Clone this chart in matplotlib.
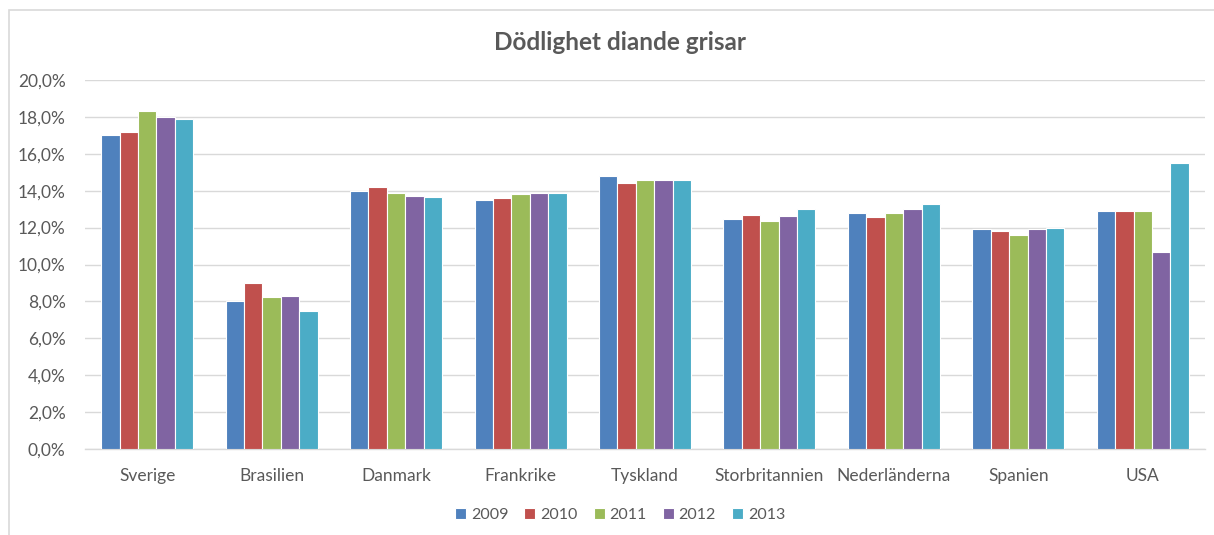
import numpy as np
import matplotlib.pyplot as plt
from matplotlib.patches import Rectangle
from matplotlib.ticker import FuncFormatter

countries = ['Sverige', 'Brasilien', 'Danmark', 'Frankrike', 'Tyskland',
             'Storbritannien', 'Nederländerna', 'Spanien', 'USA']
years = ['2009', '2010', '2011', '2012', '2013']
v2009 = [17.0, 8.0, 14.0, 13.5, 14.8, 12.45, 12.8, 11.9, 12.9]
v2010 = [17.2, 9.0, 14.2, 13.6, 14.4, 12.7, 12.6, 11.8, 12.9]
v2011 = [18.3, 8.25, 13.9, 13.8, 14.6, 12.35, 12.8, 11.6, 12.9]
v2012 = [18.0, 8.3, 13.7, 13.9, 14.6, 12.65, 13.0, 11.9, 10.7]
v2013 = [17.9, 7.5, 13.65, 13.9, 14.6, 13.0, 13.3, 12.0, 15.5]
series = [v2009, v2010, v2011, v2012, v2013]
colors = ['#4F81BD', '#C0504D', '#9BBB59', '#8064A2', '#4BACC6']

plt.rcParams['font.family'] = ['Lato', 'DejaVu Sans']

fig = plt.figure(figsize=(12.14, 5.35), dpi=100)
# chart frame (cut at right/bottom like the screenshot)
fig.patches.append(Rectangle((9 / 1214, -0.1), 1.2, 1 - 10 / 535 + 0.1,
                             transform=fig.transFigure, fill=False,
                             edgecolor='#d9d9d9', linewidth=1.2))

ax = fig.add_axes([85 / 1214, 86 / 535, 1120 / 1214, 369 / 535])
x = np.arange(len(countries))
w = 0.148
for i, (vals, c) in enumerate(zip(series, colors)):
    ax.bar(x + (i - 2) * w, vals, w, color=c, edgecolor='white',
           linewidth=0.8, label=years[i], zorder=3)

ax.set_xlim(-0.5, len(countries) - 0.5)
ax.set_ylim(0, 20)
ax.set_yticks(np.arange(0, 21, 2))
ax.yaxis.set_major_formatter(FuncFormatter(lambda v, p: ('%.1f%%' % v).replace('.', ',')))
ax.set_xticks(x)
ax.set_xticklabels(countries)
ax.grid(axis='y', color='#d9d9d9', linewidth=1, zorder=0)
for s in ['top', 'right', 'left']:
    ax.spines[s].set_visible(False)
ax.spines['bottom'].set_color('#d9d9d9')
ax.spines['bottom'].set_linewidth(1)
ax.tick_params(axis='both', length=0, labelsize=12.5, colors='#595959')
ax.tick_params(axis='x', pad=14)
ax.tick_params(axis='y', pad=14)

fig.text(620 / 1214, 1 - 42 / 535, 'Dödlighet diande grisar', ha='center',
         va='center', fontsize=17.5, fontweight='bold', color='#595959')

fig.legend(loc='center', bbox_to_anchor=(620 / 1214, 1 - 515 / 535), ncol=5,
           frameon=False, fontsize=11.5, handlelength=0.7, handleheight=0.7,
           handletextpad=0.3, columnspacing=1.0, labelcolor='#595959')

plt.savefig('out.png', dpi=100)
